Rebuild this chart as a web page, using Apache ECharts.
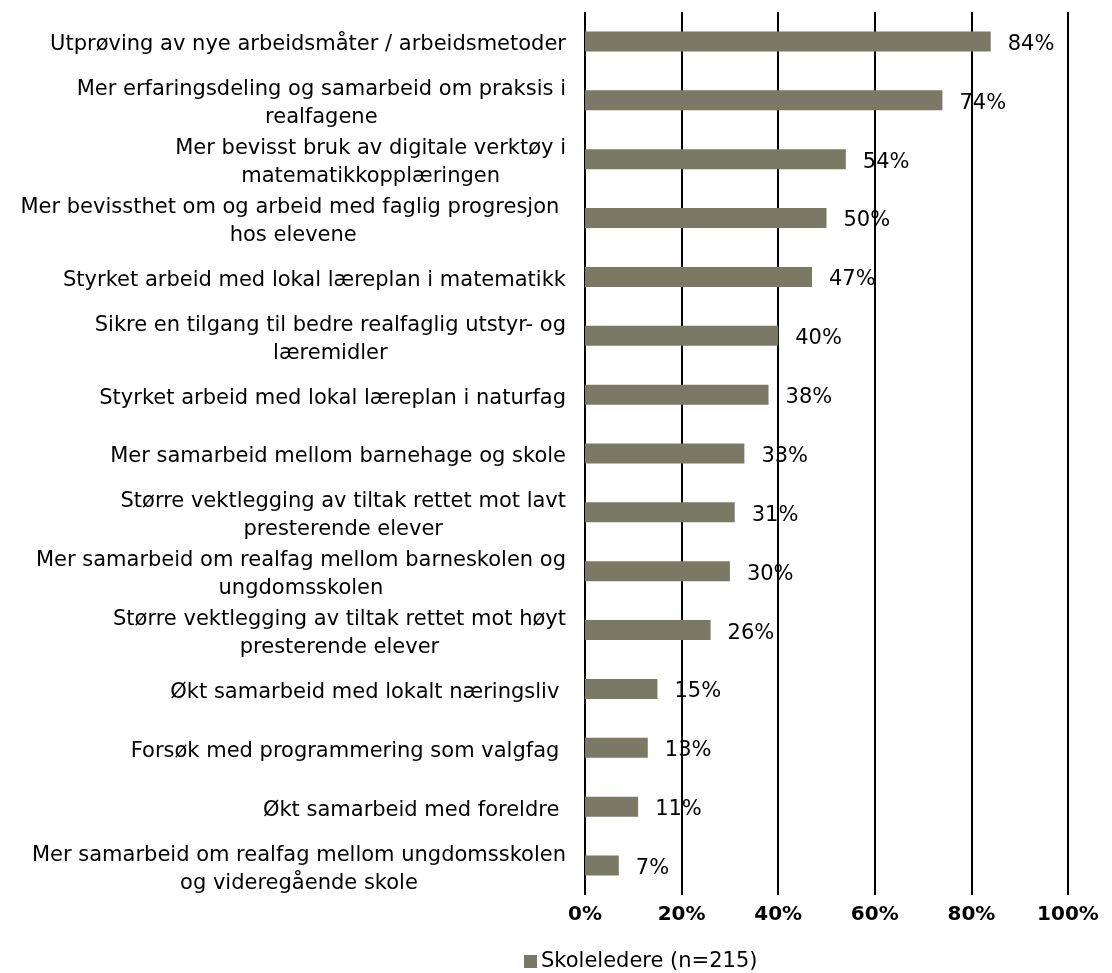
<!DOCTYPE html>
<html>
<head>
<meta charset="utf-8">
<script src="https://cdn.jsdelivr.net/npm/echarts@6/dist/echarts.min.js"></script>
<style>
  html, body { margin: 0; padding: 0; background: #fff; }
  #chart { width: 1112px; height: 973px; }
</style>
</head>
<body>
<div id="chart"></div>
<script>
// Tiltak (wrapped as they appear beside the bars)
const categories = [
  'Utprøving av nye arbeidsmåter / arbeidsmetoder',
  'Mer erfaringsdeling og samarbeid om praksis i\nrealfagene',
  'Mer bevisst bruk av digitale verktøy i\nmatematikkopplæringen',
  'Mer bevissthet om og arbeid med faglig progresjon \nhos elevene',
  'Styrket arbeid med lokal læreplan i matematikk',
  'Sikre en tilgang til bedre realfaglig utstyr- og\nlæremidler',
  'Styrket arbeid med lokal læreplan i naturfag',
  'Mer samarbeid mellom barnehage og skole',
  'Større vektlegging av tiltak rettet mot lavt\npresterende elever',
  'Mer samarbeid om realfag mellom barneskolen og\nungdomsskolen',
  'Større vektlegging av tiltak rettet mot høyt\npresterende elever',
  'Økt samarbeid med lokalt næringsliv ',
  'Forsøk med programmering som valgfag ',
  'Økt samarbeid med foreldre ',
  'Mer samarbeid om realfag mellom ungdomsskolen\nog videregående skole'
];

// Andel skoleledere (prosent)
const skoleledere = [84, 74, 54, 50, 47, 40, 38, 33, 31, 30, 26, 15, 13, 11, 7];

const seriesName = 'Skoleledere (n=215)';
const xTicks = [0, 20, 40, 60, 80, 100];

const FONT = '"DejaVu Sans", Verdana, sans-serif';

const chart = echarts.init(document.getElementById('chart'), null, { renderer: 'canvas' });

chart.setOption({
  animation: false,
  backgroundColor: '#ffffff',
  grid: { left: 585, right: 44, top: 12, bottom: 78, containLabel: false },
  legend: {
    data: [seriesName],
    left: 519,
    top: 946,
    itemWidth: 13,
    itemHeight: 13,
    itemGap: 6,
    icon: 'rect',
    textStyle: { fontFamily: FONT, fontSize: 21, color: '#000', padding: [0, 0, 0, -1] }
  },
  xAxis: {
    type: 'value',
    min: xTicks[0],
    max: xTicks[xTicks.length - 1],
    interval: xTicks[1] - xTicks[0],
    axisLine: { show: false },
    axisTick: { show: false },
    axisLabel: {
      formatter: '{value}%',
      fontFamily: FONT,
      fontSize: 20,
      fontWeight: 'bold',
      color: '#000',
      margin: 10
    },
    splitLine: { show: true, lineStyle: { color: '#000', width: 2 } }
  },
  yAxis: {
    type: 'category',
    inverse: true,
    data: categories,
    axisLine: { show: false },
    axisTick: { show: false },
    axisLabel: {
      interval: 0,
      align: 'right',
      margin: 19,
      // each wrapped line is centred inside the right-aligned label block
      formatter: function (v) {
        return v.split('\n').map(function (l) { return '{c|' + l + '}'; }).join('\n');
      },
      rich: {
        c: {
          align: 'center',
          verticalAlign: 'bottom',
          fontFamily: FONT,
          fontSize: 21,
          lineHeight: 28,
          color: '#000'
        }
      }
    }
  },
  series: [{
    name: seriesName,
    type: 'bar',
    data: skoleledere,
    barWidth: 20,
    itemStyle: { color: '#7a7966' },
    label: {
      show: true,
      position: 'right',
      distance: 17,
      offset: [0, 3],
      formatter: '{c}%',
      fontFamily: FONT,
      fontSize: 21,
      color: '#000'
    }
  }]
});
</script>
</body>
</html>
